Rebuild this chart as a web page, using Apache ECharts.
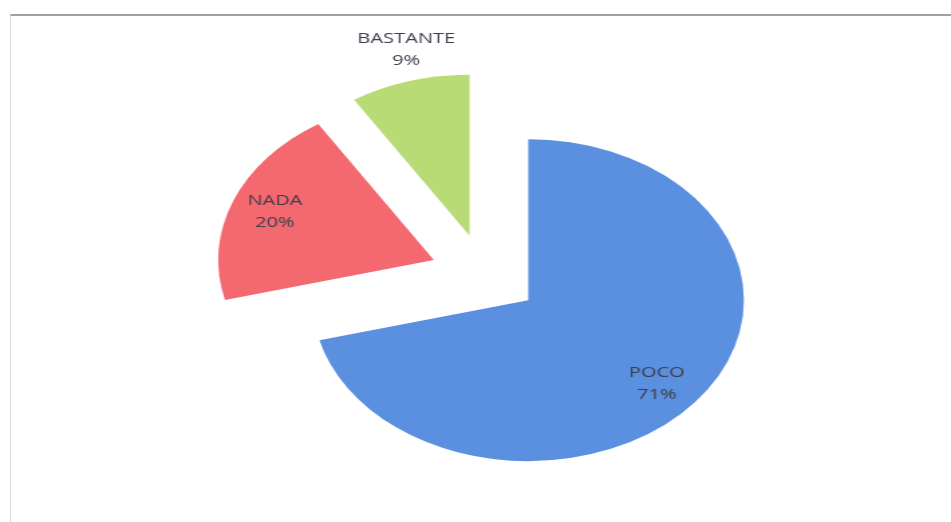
<!DOCTYPE html>
<html>
<head>
<meta charset="utf-8">
<script src="https://cdn.jsdelivr.net/npm/echarts@6/dist/echarts.min.js"></script>
<style>
  html, body { margin: 0; padding: 0; background: #fff; overflow: hidden; }
  #frame {
    position: absolute; left: 10px; top: 14px; width: 941px; height: 508px;
    border-top: 2px solid #a0a0a0; border-left: 1px solid #dcdcdc;
  }
  /* the scanned picture is stretched sideways, so the chart is too */
  #main {
    position: absolute; left: 0; top: 0; width: 710px; height: 522px;
    transform: scaleX(1.3394); transform-origin: 0 0;
  }
</style>
</head>
<body>
<div id="frame"></div>
<div id="main"></div>
<script>
var categories = ['POCO', 'NADA', 'BASTANTE'];
var values = [71, 20, 9];
var colors = ['#5b8fe0', '#f4686f', '#b8db76'];

// nudges for the labels, same order as categories
var labelShift = [{dx: 30, dy: 32}, {dx: -41, dy: -17}, {dx: -24, dy: -106}];

var chartDom = document.getElementById('main');
var myChart = echarts.init(chartDom);
var option;

var pieData = categories.map(function (name, i) {
    return {
        name: name,
        value: values[i],
        selected: true,
        itemStyle: { color: colors[i] }
    };
});

option = {
    animation: false,
    series: [
        {
            type: 'pie',
            center: [362, 275],
            radius: 161,
            startAngle: 90,
            clockwise: true,
            avoidLabelOverlap: false,
            selectedMode: 'multiple',
            selectedOffset: 41,
            emphasis: { disabled: true },
            itemStyle: { borderWidth: 0 },
            label: {
                show: true,
                position: 'inside',
                formatter: '{b}\n{d}%',
                color: '#3d3f4d',
                fontFamily: 'Open Sans',
                fontSize: 15,
                lineHeight: 22,
                align: 'center'
            },
            labelLine: { show: false },
            labelLayout: function (p) {
                return labelShift[p.dataIndex];
            },
            data: pieData
        }
    ]
};

option && myChart.setOption(option);
</script>
</body>
</html>
